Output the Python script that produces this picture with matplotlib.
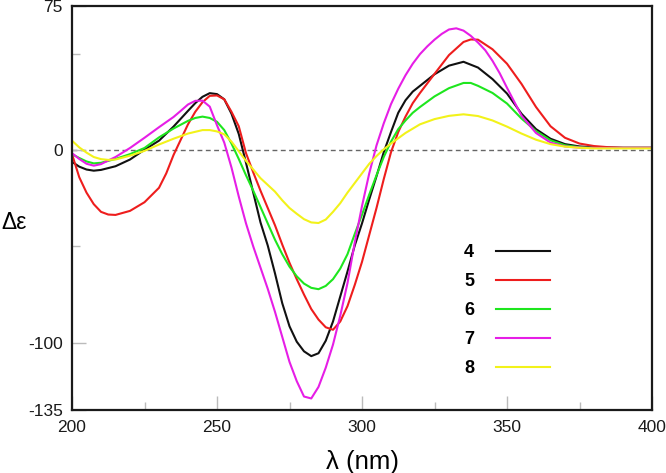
import matplotlib
matplotlib.use('Agg')
import matplotlib.pyplot as plt

plt.rcParams['font.family'] = ['Liberation Sans', 'DejaVu Sans']

# ---- data ----
wl_4 = [200, 202.5, 205, 207.5, 210, 215, 220, 225, 230, 235, 240, 242.5, 245, 247.5, 250, 252.5, 255, 257.5,
        260, 262.5, 265, 267.5, 270, 272.5, 275, 277.5, 280, 282.5, 285, 287.5, 290, 292.5, 295, 297.5,
        300, 302.5, 305, 307.5, 310, 312.5, 315, 317.5, 320, 325, 330, 335, 340, 345, 350, 355, 360, 365,
        370, 375, 380, 390, 400]
de_4 = [-6, -8.5, -10, -10.6, -10.2, -8.3, -4.8, 0.3, 5, 12.3, 20.5, 24.5, 27.8, 29.7, 29.2, 26.5, 19, 8.5,
        -6.5, -22, -37.5, -49.5, -64, -79.5, -91.5, -99.5, -104.5, -107, -105.5, -99, -89, -76, -63, -49.5,
        -38, -25.5, -13.5, -1, 9.5, 19.5, 26, 30.5, 33.5, 39.5, 44, 46, 43, 37, 29.5, 19, 11, 6,
        3.2, 2, 1.5, 1.3, 1.3]

wl_5 = [200, 202.5, 205, 207.5, 210, 212.5, 215, 220, 225, 230, 232.5, 235, 237.5, 240, 242.5, 245, 247.5,
        250, 252.5, 255, 257.5, 260, 262.5, 265, 267.5, 270, 272.5, 275, 277.5, 280, 282.5, 285, 287.5,
        290, 292.5, 295, 297.5, 300, 302.5, 305, 307.5, 310, 312.5, 315, 317.5, 320, 325, 330, 335, 337.5,
        340, 345, 350, 355, 360, 365, 370, 375, 380, 385, 390, 400]
de_5 = [-2, -14, -22, -28, -32, -33.4, -33.6, -31.5, -27, -19.5, -12, -2.5, 5.5, 13.5, 20, 25, 28.3,
        28.5, 26.5, 20, 12.5, -1.5, -11.5, -21, -30, -39, -49, -58.5, -67, -75, -82.5, -88, -92,
        -93.3, -89, -81, -70, -58, -44, -30, -15, -1, 9.5, 17.5, 24.5, 29.8, 39.7, 49.5, 56.3, 57.6,
        57.5, 52.5, 45, 34.5, 22.5, 12.5, 6.5, 3.5, 2.2, 1.6, 1.3, 1.3]

wl_6 = [200, 202.5, 205, 207.5, 210, 215, 220, 225, 230, 235, 240, 242.5, 245, 247.5, 250, 252.5, 255, 257.5,
        260, 262.5, 265, 267.5, 270, 272.5, 275, 277.5, 280, 282.5, 285, 287.5, 290, 292.5, 295, 297.5,
        300, 302.5, 305, 307.5, 310, 312.5, 315, 317.5, 320, 325, 330, 335, 337.5, 340, 345, 350, 355,
        360, 365, 370, 375, 380, 390, 400]
de_6 = [-2, -4, -5.8, -6.8, -6.5, -4.5, -2, 1.2, 6.7, 11.3, 15.3, 16.8, 17.5, 16.8, 14.8, 10.5, 3.5, -4.5,
        -13, -21, -29.5, -38, -46.5, -54, -60.5, -65.5, -69.3, -71.5, -72.2, -70.5, -67, -61.5, -54, -43.5,
        -33.5, -23, -13, -3.5, 4.5, 11, 15.5, 19.5, 22.5, 28, 32.3, 35, 35, 33.5, 29.8, 24.3, 16.5,
        10, 5.2, 2.6, 1.6, 1.2, 1.2, 1.2]

wl_7 = [200, 202.5, 205, 207.5, 210, 212.5, 215, 220, 225, 230, 235, 237.5, 240, 242.5, 245, 247.5, 250,
        252.5, 255, 257.5, 260, 262.5, 265, 267.5, 270, 272.5, 275, 277.5, 280, 282.5, 285, 287.5, 290,
        292.5, 295, 297.5, 300, 302.5, 305, 307.5, 310, 312.5, 315, 317.5, 320, 322.5, 325, 327.5, 330,
        332.5, 335, 337.5, 340, 342.5, 345, 347.5, 350, 355, 360, 365, 370, 375, 380, 400]
de_7 = [-1.5, -4.5, -7, -8, -7.2, -5.3, -3.5, 1.2, 6.5, 12, 17.3, 20.5, 23.8, 25.7, 25.8, 22.7, 13,
        4, -9, -24, -38, -50, -61, -72, -84, -97, -110, -120, -128, -129, -123, -113, -101,
        -86, -69, -48, -29, -12, 2.5, 14, 24, 32, 39, 45, 50, 54, 57.5, 60.5, 62.8,
        63.4, 62.2, 59.5, 56, 52, 46.5, 40, 32.5, 18, 9, 4, 2, 1.4, 1.2, 1.2]

wl_8 = [200, 202.5, 205, 207.5, 210, 212.5, 215, 220, 225, 230, 235, 240, 245, 247.5, 250, 252.5, 255, 257.5,
        260, 262.5, 265, 267.5, 270, 272.5, 275, 277.5, 280, 282.5, 285, 287.5, 290, 292.5, 295, 297.5,
        300, 302.5, 305, 307.5, 310, 315, 320, 325, 330, 335, 340, 345, 350, 355, 360, 365, 370, 375,
        380, 400]
de_8 = [5, 1.5, -1.2, -3.5, -4.6, -5, -4.8, -2.8, -0.3, 3, 6, 8.7, 10.5, 10.5, 9.8, 8.3, 4.5, -0.5,
        -5.5, -10, -14.5, -18, -21.5, -26, -30, -33, -35.8, -37.5, -37.8, -36, -32, -27.5, -22, -17,
        -12, -7, -3, 0.5, 3.5, 9, 13.5, 16.2, 17.9, 18.7, 17.8, 15.5, 12.3, 8.7, 5.5, 3.2, 1.9, 1.3,
        1, 1]

labels = ['4', '5', '6', '7', '8']
colors = ['#111111', '#ee1d1d', '#1ee61e', '#e61ee6', '#f2f21a']

x_ticks = [200, 250, 300, 350, 400]
x_minor = [225, 275, 325, 375]
y_ticks = [75, 0, -100, -135]
y_ticklabels = ['75', '0', '-100', '-135']
y_minor = [50, -50]

# ---- figure ----
fig = plt.figure(figsize=(6.66, 4.73), dpi=100)
ax = fig.add_axes([72/666, 1-410/473, 580/666, 404/473])

ax.axhline(0, color='#666666', lw=1.0, ls=(0, (3.5, 2.5)), zorder=1)

series = [(wl_4, de_4), (wl_5, de_5), (wl_6, de_6), (wl_7, de_7), (wl_8, de_8)]
handles = []
for (wl, de), lab, c in zip(series, labels, colors):
    h, = ax.plot(wl, de, color=c, lw=1.5, label=lab, zorder=2,
                 solid_joinstyle='round')
    handles.append(h)

ax.set_xlim(200, 400)
ax.set_ylim(-135, 75)

ax.set_xticks(x_ticks)
ax.set_xticks(x_minor, minor=True)
ax.set_xticklabels([str(v) for v in x_ticks])
ax.set_yticks(y_ticks)
ax.set_yticks(y_minor, minor=True)
ax.set_yticklabels(y_ticklabels)

ax.tick_params(which='major', direction='in', length=10, width=1, color='#bbbbbb',
               labelsize=12.5, labelcolor='#1a1a1a')
ax.tick_params(which='minor', direction='in', length=6, width=1, color='#bbbbbb')
ax.tick_params(axis='y', which='major', pad=6.5)
ax.tick_params(axis='x', which='major', pad=7.5)

for s in ax.spines.values():
    s.set_linewidth(1.6)
    s.set_color('#1a1a1a')

ax.set_xlabel('λ (nm)', fontsize=18.5, va='center')
ax.xaxis.set_label_coords(0.5, -0.128)
ax.set_ylabel('Δε', fontsize=16.5, rotation=0, va='center', ha='center')
ax.yaxis.set_label_coords(-0.1, 0.463)

leg = ax.legend(handles=handles, labels=labels, loc='upper right',
                bbox_to_anchor=(0.824, 0.410), frameon=False, markerfirst=False,
                handlelength=3.0, handletextpad=1.2, labelspacing=0.66,
                borderpad=0, borderaxespad=0,
                prop={'weight': 'bold', 'size': 13})

fig.savefig('out.png', dpi=100)
